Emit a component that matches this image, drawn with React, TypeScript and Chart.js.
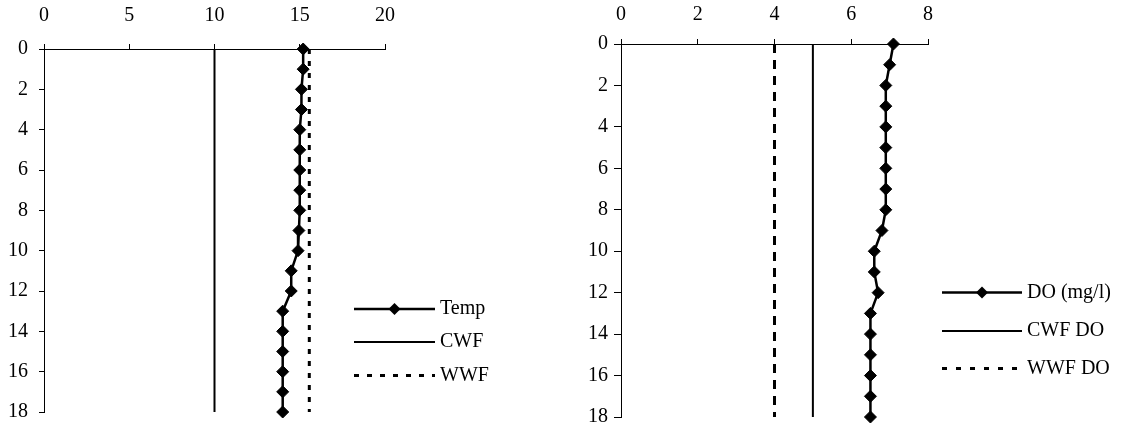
import React, { useEffect, useRef } from "react";
import { Chart, registerables } from "chart.js";

Chart.register(...registerables);

// Sampling depths (m), top to bottom
const depths = [0, 1, 2, 3, 4, 5, 6, 7, 8, 9, 10, 11, 12, 13, 14, 15, 16, 17, 18];
const depthTicks = [0, 2, 4, 6, 8, 10, 12, 14, 16, 18];

// Temperature profile (°C) and fishery criteria
const temperature = [15.2, 15.2, 15.1, 15.1, 15.0, 15.0, 15.0, 15.0, 15.0, 14.95, 14.9, 14.5, 14.5, 14.0, 14.0, 14.0, 14.0, 14.0, 14.0];
const cwfTemperature = 10;
const wwfTemperature = 15.56;
const temperatureTicks = [0, 5, 10, 15, 20];

// Dissolved oxygen profile (mg/l) and fishery criteria
const dissolvedOxygen = [7.1, 7.0, 6.9, 6.9, 6.9, 6.9, 6.9, 6.9, 6.9, 6.8, 6.6, 6.6, 6.7, 6.5, 6.5, 6.5, 6.5, 6.5, 6.5];
const cwfOxygen = 5;
const wwfOxygen = 4;
const oxygenTicks = [0, 2, 4, 6, 8];

const profileLabels = ["Temp", "CWF", "WWF"];
const oxygenLabels = ["DO (mg/l)", "CWF DO", "WWF DO"];

const FONT = '"Liberation Serif", "Times New Roman", Times, serif';

type Layout = {
  yAxisWidth: number;
  xAxisHeight: number;
  padRight: number;
  padBottom: number;
  xLabelPad: number;
  yTickLen: number;
  yLabelPad: number;
  legendX0: number;
  legendX1: number;
  legendRows: number[];
  wwfDash: number[];
  legendDash: number[];
};

const verticalLine = (x: number) => [
  { x, y: depths[0] },
  { x, y: depths[depths.length - 1] },
];

// Draws the legend rows (sample line, marker, label) inside the plot area
const legendPlugin = {
  id: "profileLegend",
  afterDraw(chart: any, _args: any, opts: any) {
    const { ctx } = chart;
    const lay: Layout = opts.layout;
    ctx.save();
    chart.data.datasets.forEach((ds: any, i: number) => {
      const y = lay.legendRows[i];
      ctx.beginPath();
      ctx.strokeStyle = "#000";
      ctx.lineWidth = ds.borderWidth;
      ctx.setLineDash(ds.borderDash && ds.borderDash.length ? lay.legendDash : []);
      ctx.moveTo(lay.legendX0, y);
      ctx.lineTo(lay.legendX1, y);
      ctx.stroke();
      ctx.setLineDash([]);
      if (ds.pointRadius > 0) {
        const r = ds.pointRadius;
        const cx = (lay.legendX0 + lay.legendX1) / 2;
        ctx.beginPath();
        ctx.moveTo(cx - r, y);
        ctx.lineTo(cx, y - r);
        ctx.lineTo(cx + r, y);
        ctx.lineTo(cx, y + r);
        ctx.closePath();
        ctx.fillStyle = "#000";
        ctx.fill();
      }
      ctx.fillStyle = "#000";
      ctx.font = `20px ${FONT}`;
      ctx.textAlign = "left";
      ctx.textBaseline = "middle";
      ctx.fillText(ds.label, lay.legendX1 + 5, y);
    });
    ctx.restore();
  },
};

function ProfileChart(props: {
  values: number[];
  cwf: number;
  wwf: number;
  xTicks: number[];
  labels: string[];
  layout: Layout;
  left: number;
}) {
  const ref = useRef<HTMLCanvasElement>(null);

  useEffect(() => {
    const { values, cwf, wwf, xTicks, labels, layout } = props;
    let chart: Chart | null = null;
    let cancelled = false;

    const build = () => {
      if (cancelled || !ref.current) return;
      chart = new Chart(ref.current, {
        type: "scatter",
        data: {
          datasets: [
            {
              label: labels[0],
              data: depths.map((d, i) => ({ x: values[i], y: d })),
              showLine: true,
              borderColor: "#000",
              backgroundColor: "#000",
              borderWidth: 2.5,
              pointStyle: "rectRot",
              pointRadius: 6,
              pointBorderWidth: 1,
              clip: false,
            },
            {
              label: labels[1],
              data: verticalLine(cwf),
              showLine: true,
              borderColor: "#000",
              borderWidth: 2,
              pointRadius: 0,
              clip: false,
            },
            {
              label: labels[2],
              data: verticalLine(wwf),
              showLine: true,
              borderColor: "#000",
              borderWidth: 3,
              borderDash: layout.wwfDash,
              pointRadius: 0,
              clip: false,
            },
          ],
        },
        options: {
          responsive: false,
          animation: false,
          events: [],
          layout: {
            padding: { left: 0, top: 0, right: layout.padRight, bottom: layout.padBottom },
          },
          plugins: {
            legend: { display: false },
            tooltip: { enabled: false },
            profileLegend: { layout },
          } as any,
          scales: {
            x: {
              type: "linear",
              position: "top",
              min: xTicks[0],
              max: xTicks[xTicks.length - 1],
              afterBuildTicks: (s: any) => {
                s.ticks = xTicks.map((v) => ({ value: v }));
              },
              afterFit: (s: any) => {
                s.height = layout.xAxisHeight;
              },
              grid: { drawOnChartArea: false, drawTicks: true, tickLength: 5, color: "#000" },
              border: { display: true, color: "#000", width: 1 },
              ticks: {
                color: "#000",
                font: { family: FONT, size: 20 },
                padding: layout.xLabelPad,
                maxRotation: 0,
                autoSkip: false,
              },
            },
            y: {
              type: "linear",
              reverse: true,
              min: depthTicks[0],
              max: depthTicks[depthTicks.length - 1],
              afterBuildTicks: (s: any) => {
                s.ticks = depthTicks.map((v) => ({ value: v }));
              },
              afterFit: (s: any) => {
                s.width = layout.yAxisWidth;
              },
              grid: { drawOnChartArea: false, drawTicks: true, tickLength: layout.yTickLen, color: "#000" },
              border: { display: true, color: "#000", width: 1 },
              ticks: {
                color: "#000",
                font: { family: FONT, size: 20 },
                padding: layout.yLabelPad,
                autoSkip: false,
              },
            },
          },
        },
        plugins: [legendPlugin],
      });
    };

    const fonts = (document as any).fonts;
    if (fonts && fonts.load) {
      fonts.load('20px "Liberation Serif"').then(build, build);
    } else {
      build();
    }

    return () => {
      cancelled = true;
      if (chart) chart.destroy();
    };
  }, []);

  return (
    <canvas
      ref={ref}
      width={562}
      height={435}
      style={{ position: "absolute", left: props.left, top: 0, width: 562, height: 435 }}
    />
  );
}

const temperatureLayout: Layout = {
  yAxisWidth: 44,
  xAxisHeight: 49,
  padRight: 177,
  padBottom: 13,
  xLabelPad: 16,
  yTickLen: 5,
  yLabelPad: 11,
  legendX0: 354,
  legendX1: 435,
  legendRows: [309, 342, 375.5],
  wwfDash: [5, 7],
  legendDash: [5, 8],
};

const oxygenLayout: Layout = {
  yAxisWidth: 59,
  xAxisHeight: 44,
  padRight: 196,
  padBottom: 16,
  xLabelPad: 12,
  yTickLen: 7,
  yLabelPad: 6,
  legendX0: 380,
  legendX1: 460,
  legendRows: [292.5, 331, 368.5],
  wwfDash: [9, 7],
  legendDash: [5, 9],
};

export default function App() {
  return (
    <div
      style={{
        position: "absolute",
        left: 0,
        top: 0,
        width: 1124,
        height: 435,
        background: "#fff",
        overflow: "hidden",
        fontFamily: FONT,
      }}
    >
      <ProfileChart
        values={temperature}
        cwf={cwfTemperature}
        wwf={wwfTemperature}
        xTicks={temperatureTicks}
        labels={profileLabels}
        layout={temperatureLayout}
        left={0}
      />
      <ProfileChart
        values={dissolvedOxygen}
        cwf={cwfOxygen}
        wwf={wwfOxygen}
        xTicks={oxygenTicks}
        labels={oxygenLabels}
        layout={oxygenLayout}
        left={562}
      />
    </div>
  );
}
